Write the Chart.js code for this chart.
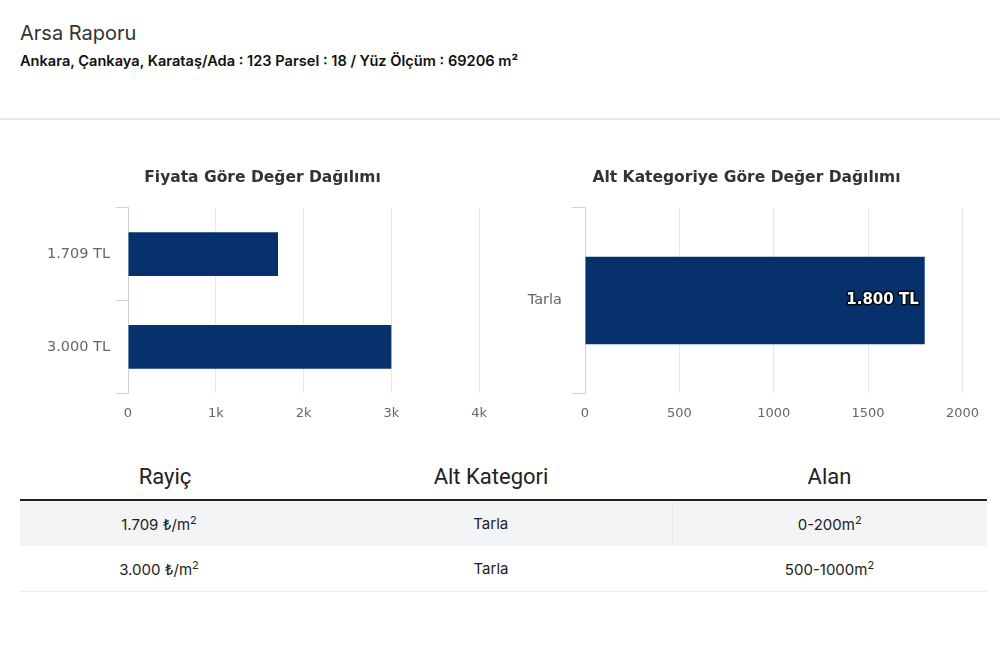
<!DOCTYPE html>
<html>
<head>
<meta charset="utf-8">
<script src="https://cdn.jsdelivr.net/npm/chart.js@4"></script>
<style>
  body { margin: 0; width: 1000px; height: 664px; background: #fff; position: relative; overflow: hidden; font-family: "Inter", "Roboto", sans-serif; }
  .head { position: absolute; left: 20px; top: 20px; }
  .head .title { font-size: 20px; color: #333; font-weight: 400; line-height: 26px; }
  .head .sub { font-size: 14.6px; color: #111; font-weight: 600; margin-top: 6px; }
  .sep { position: absolute; left: 0; top: 118px; width: 1000px; height: 2px; background: #e8e8ea; }
  .box { position: absolute; }
  #box1 { left: 26px; top: 158px; width: 473px; height: 275px; }
  #box2 { left: 502px; top: 158px; width: 489px; height: 275px; }
  table { position: absolute; left: 20px; top: 453px; width: 967px; border-collapse: collapse; color: #222; }
  th { font-family: "Roboto", sans-serif; font-size: 22px; font-weight: 400; height: 46px; border-bottom: 2px solid #222; padding: 0; }
  td { font-family: "Inter", sans-serif; font-size: 15px; height: 45px; text-align: center; padding: 0; }
  tr.odd td { background: #f3f4f6; }
  tr.last td { border-bottom: 1px solid #ececec; }
  tr.odd td.c3 { border-left: 1px solid #e9eaec; }
  td.c1 { padding-right: 12px; }
  sup { font-size: 11px; }
</style>
</head>
<body>
<div class="head">
  <div class="title">Arsa Raporu</div>
  <div class="sub">Ankara, Çankaya, Karataş/Ada : 123 Parsel : 18 / Yüz Ölçüm : 69206 m²</div>
</div>
<div class="sep"></div>
<div class="box" id="box1"><canvas id="fiyatChart"></canvas></div>
<div class="box" id="box2"><canvas id="altKatChart"></canvas></div>
<table id="rayicTable">
  <colgroup><col style="width:290px"><col style="width:362px"><col style="width:315px"></colgroup>
  <thead><tr><th>Rayiç</th><th>Alt Kategori</th><th>Alan</th></tr></thead>
  <tbody></tbody>
</table>
<script>
// chart data
var fiyatLabels = ["1.709 TL", "3.000 TL"];
var fiyatValues = [1709, 3000];
var altKatLabels = ["Tarla"];
var altKatValues = [1800];
var altKatValueText = ["1.800 TL"];

// table data
var rayicCol = ["1.709", "3.000"];
var altKategoriCol = ["Tarla", "Tarla"];
var alanCol = ["0-200", "500-1000"];

var barColor = "#06316c";
var xTickFont = { family: "DejaVu Sans", size: 13 };
var yTickFont = { family: "DejaVu Sans", size: 14.5 };
var titleFont = { family: "DejaVu Sans", size: 15.5, weight: "bold" };

// fill table
var tbody = document.querySelector("#rayicTable tbody");
for (var i = 0; i < rayicCol.length; i++) {
  var tr = document.createElement("tr");
  tr.className = (i % 2 == 0 ? "odd" : "") + (i == rayicCol.length - 1 ? " last" : "");
  tr.innerHTML = "<td class='c1'>" + rayicCol[i] + " ₺/m<sup>2</sup></td>" +
                 "<td>" + altKategoriCol[i] + "</td>" +
                 "<td class='c3'>" + alanCol[i] + "m<sup>2</sup></td>";
  tbody.appendChild(tr);
}

// draws value text inside the end of each bar
var barTextPlugin = {
  id: "barText",
  afterDatasetsDraw: function(chart, args, opts) {
    if (!opts.texts) return;
    var ctx = chart.ctx;
    var meta = chart.getDatasetMeta(0);
    ctx.save();
    ctx.font = "bold 15px 'DejaVu Sans'";
    ctx.textAlign = "right";
    ctx.textBaseline = "middle";
    ctx.lineWidth = 3;
    ctx.lineJoin = "round";
    ctx.strokeStyle = "rgba(0,0,0,0.85)";
    ctx.fillStyle = "#fff";
    meta.data.forEach(function(bar, i) {
      ctx.strokeText(opts.texts[i], bar.x - 6, bar.y);
      ctx.fillText(opts.texts[i], bar.x - 6, bar.y);
    });
    ctx.restore();
  }
};

function makeChart(id, title, labels, values, max, step, tickCb, yWidth, tickLen, tickPad, texts) {
  var ctx = document.getElementById(id).getContext("2d");
  return new Chart(ctx, {
    type: "bar",
    data: {
      labels: labels,
      datasets: [{
        data: values,
        backgroundColor: barColor,
        borderWidth: 0,
        categoryPercentage: 0.8,
        barPercentage: 0.59
      }]
    },
    plugins: [barTextPlugin],
    options: {
      indexAxis: "y",
      responsive: true,
      maintainAspectRatio: false,
      animation: false,
      layout: { padding: 0 },
      plugins: {
        legend: { display: false },
        tooltip: { enabled: false },
        title: {
          display: true,
          text: title,
          color: "#333",
          font: titleFont,
          padding: { top: 11, bottom: 20 }
        },
        barText: { texts: texts }
      },
      scales: {
        x: {
          min: 0,
          max: max,
          ticks: {
            stepSize: step,
            color: "#666",
            font: xTickFont,
            padding: 12,
            callback: tickCb
          },
          grid: {
            color: "#e6e6e6",
            drawTicks: false
          },
          border: { display: false }
        },
        y: {
          ticks: {
            color: "#666",
            font: yTickFont,
            padding: tickPad
          },
          grid: {
            drawOnChartArea: false,
            drawTicks: true,
            tickLength: tickLen,
            color: "#cdd3de"
          },
          border: { display: true, color: "#cdd3de" },
          afterFit: function(axis) { axis.width = yWidth; }
        }
      }
    }
  });
}

makeChart("fiyatChart", "Fiyata Göre Değer Dağılımı", fiyatLabels, fiyatValues, 4000, 1000,
  function(v) { return v == 0 ? "0" : (v / 1000) + "k"; }, 102, 12, 6, null);

makeChart("altKatChart", "Alt Kategoriye Göre Değer Dağılımı", altKatLabels, altKatValues, 2000, 500,
  function(v) { return v; }, 83, 13, 10, altKatValueText);
</script>
</body>
</html>
